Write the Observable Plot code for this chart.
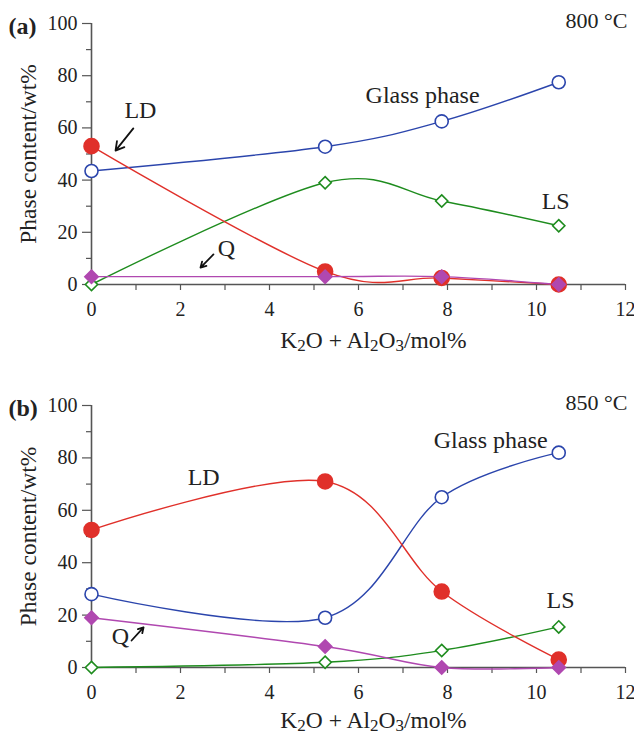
<!DOCTYPE html>
<html><head><meta charset="utf-8">
<script src="https://cdn.jsdelivr.net/npm/d3@7"></script>
<script src="https://cdn.jsdelivr.net/npm/@observablehq/plot@0.6"></script>
<style>
body{margin:0;background:#fff;}
#chart svg{display:block;}
</style>
</head><body><div id="chart"></div>
<script>
// ---- data ----
const xVals = [0, 5.25, 7.87, 10.5];          // K2O + Al2O3 / mol%
// (a) 800 °C
const glassA = [43.5, 52.8, 62.5, 77.5];
const ldA    = [53, 5, 2.5, 0];
const lsA    = [0, 39, 32, 22.5];
const qA     = [3, 3, 3, 0];
// (b) 850 °C
const glassB = [28, 19, 65, 82];
const ldB    = [52.5, 71, 29, 3];
const lsB    = [0, 2, 6.5, 15.5];
const qB     = [19, 8, 0, 0];

const yTicks = [0, 20, 40, 60, 80, 100];
const yMinor = [10, 30, 50, 70, 90];
const xTicks = [0, 2, 4, 6, 8, 10, 12];
const xMinor = [1, 3, 5, 7, 9, 11];

const xLabel = "K2O + Al2O3/mol%";
const yLabel = "Phase content/wt%";

// annotations (data units)
const labelsA = [
  {x: 1.1, y: 66.7, t: "LD"},
  {x: 7.44, y: 72.4, t: "Glass phase"},
  {x: 10.43, y: 32, t: "LS"},
  {x: 3.03, y: 13.8, t: "Q"}
];
const arrowsA = [
  {x1: 0.94, y1: 59.8, x2: 0.54, y2: 51.3},
  {x1: 2.74, y1: 11.5, x2: 2.45, y2: 6.5}
];
const labelsB = [
  {x: 2.52, y: 72.5, t: "LD"},
  {x: 8.97, y: 86.6, t: "Glass phase"},
  {x: 10.54, y: 25.6, t: "LS"},
  {x: 0.65, y: 11.8, t: "Q"}
];
const arrowsB = [
  {x1: 0.9, y1: 10.3, x2: 1.17, y2: 15.3}
];

// ---- styles ----
const FONT = "'Liberation Serif', 'Times New Roman', serif";
const C = {glass: "#2b45ac", ld: "#e0302a", ls: "#1e8c1e", q: "#b048b0", axis: "#555", text: "#222"};

function rows(vals) { return xVals.map((x, i) => ({x, y: vals[i]})); }

function panel({glass, ld, ls, q, tag, temp, labels, arrows, height, mt, mb, xl}) {
  const series = [
    {d: rows(glass), c: C.glass, sym: "circle", fill: "white", r: 6.5},
    {d: rows(ls), c: C.ls, sym: "diamond2", fill: "white", r: 5.5},
    {d: rows(ld), c: C.ld, sym: "circle", fill: C.ld, r: 7.5},
    {d: rows(q), c: C.q, sym: "diamond2", fill: C.q, r: 6}
  ];
  const marks = [
    Plot.axisY(yMinor, {tickSize: 5, tickFormat: () => "", stroke: C.axis, strokeWidth: 1.2, label: null}),
    Plot.axisY(yTicks, {tickSize: 9, tickPadding: 5, stroke: C.axis, strokeWidth: 1.2, fontSize: 20, label: null}),
    Plot.axisX(xMinor, {tickSize: 6, tickFormat: () => "", stroke: C.axis, strokeWidth: 1.2, label: null}),
    Plot.axisX(xTicks, {tickSize: 6, tickPadding: 11, stroke: C.axis, strokeWidth: 1.2, fontSize: 20, label: null}),
    Plot.ruleX([0], {stroke: C.axis, strokeWidth: 1.6}),
    Plot.ruleY([0], {stroke: C.axis, strokeWidth: 1.6})
  ];
  for (const s of series) {
    marks.push(Plot.line(s.d, {x: "x", y: "y", stroke: s.c, strokeWidth: 1.4, curve: "cardinal"}));
  }
  for (const s of series) {
    marks.push(Plot.dot(s.d, {x: "x", y: "y", symbol: s.sym, r: s.r, stroke: s.c, fill: s.fill, strokeWidth: 1.6}));
  }
  marks.push(
    Plot.text(labels, {x: "x", y: "y", text: "t", fontSize: 24, fill: C.text}),
    Plot.arrow(arrows, {x1: "x1", y1: "y1", x2: "x2", y2: "y2", stroke: "#111", strokeWidth: 1.8, headLength: 9}),
    Plot.text([tag], {frameAnchor: "top-left", textAnchor: "start", lineAnchor: "middle", dx: -83, dy: 3, fontSize: 24, fontWeight: "bold", fill: C.text}),
    Plot.text([temp], {frameAnchor: "top-right", textAnchor: "end", lineAnchor: "middle", dx: 2, dy: -3, fontSize: 22, fill: C.text}),
    Plot.text([yLabel], {frameAnchor: "left", textAnchor: "middle", lineAnchor: "middle", rotate: -90, dx: -63, fontSize: 23.5, fill: C.text}),
    Plot.text([xLabel], {frameAnchor: "bottom", textAnchor: "middle", lineAnchor: "middle", dx: 15, dy: xl, fontSize: 23.5, fill: C.text})
  );
  const svg = Plot.plot({
    width: 634, height,
    marginLeft: 91, marginRight: 9, marginTop: mt, marginBottom: mb,
    x: {domain: [0, 12], axis: null},
    y: {domain: [0, 100], axis: null},
    style: {fontFamily: FONT, color: C.text, background: "white", overflow: "visible"},
    marks
  });
  // subscripts in the x label
  svg.querySelectorAll("text").forEach(t => {
    if (t.textContent === xLabel) {
      t.textContent = "";
      const parts = [["K"], ["2", 1], ["O + Al"], ["2", 1], ["O"], ["3", 1], ["/mol%"]];
      for (const [s, sub] of parts) {
        const ts = document.createElementNS("http://www.w3.org/2000/svg", "tspan");
        ts.textContent = s;
        if (sub) { ts.setAttribute("baseline-shift", "-20%"); ts.setAttribute("font-size", "17"); }
        t.appendChild(ts);
      }
    }
  });
  return svg;
}

const root = document.getElementById("chart");
root.appendChild(panel({glass: glassA, ld: ldA, ls: lsA, q: qA, tag: "(a)", temp: "800 °C",
  labels: labelsA, arrows: arrowsA, height: 360, mt: 23, mb: 76, xl: 56}));
root.appendChild(panel({glass: glassB, ld: ldB, ls: lsB, q: qB, tag: "(b)", temp: "850 °C",
  labels: labelsB, arrows: arrowsB, height: 375, mt: 45, mb: 68, xl: 53}));
</script>
</body></html>
